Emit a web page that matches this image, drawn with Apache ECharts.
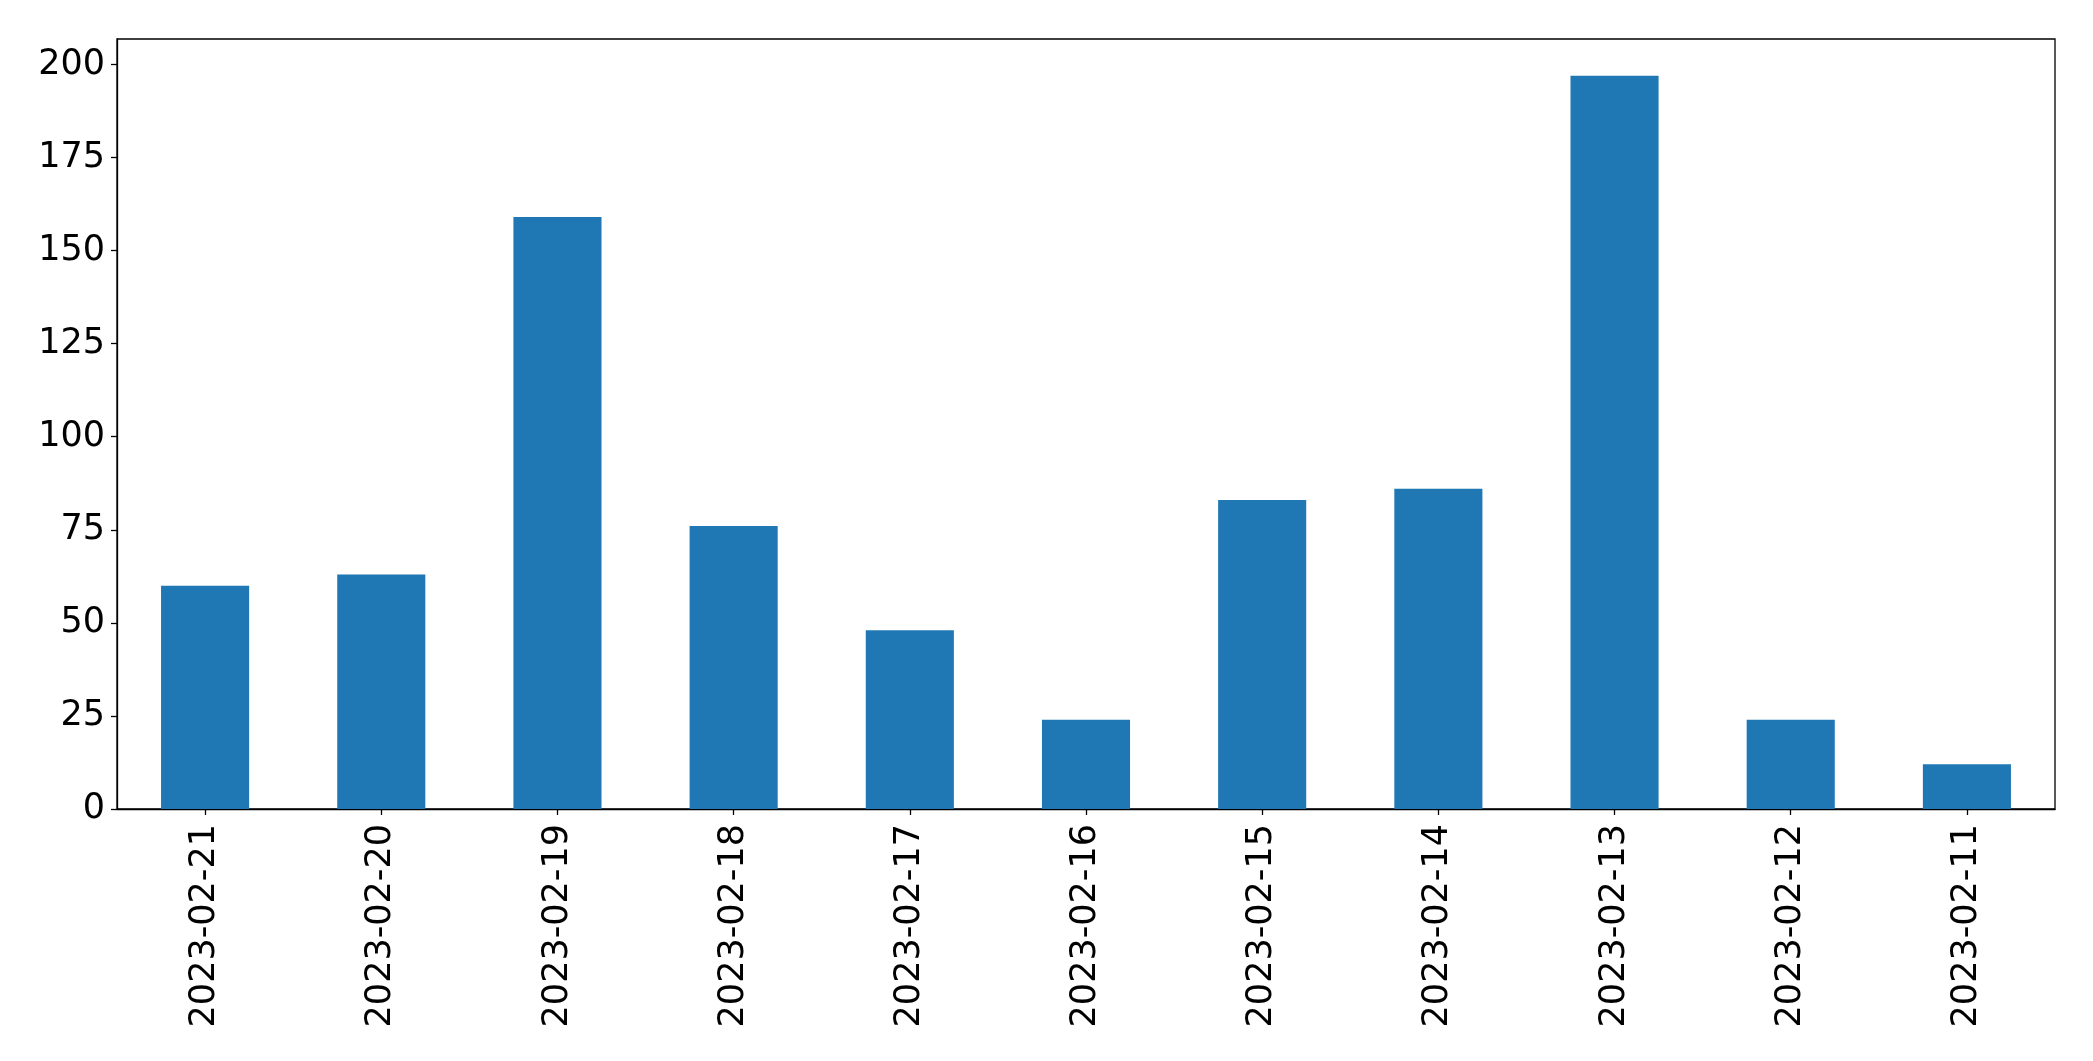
<!DOCTYPE html>
<html>
<head>
<meta charset="utf-8">
<script src="https://cdn.jsdelivr.net/npm/echarts@6/dist/echarts.min.js"></script>
<style>
html,body{margin:0;padding:0;background:#fff;}
#chart{width:2093px;height:1061px;}
</style>
</head>
<body>
<div id="chart"></div>
<script>
const categories = ["2023-02-21","2023-02-20","2023-02-19","2023-02-18","2023-02-17","2023-02-16","2023-02-15","2023-02-14","2023-02-13","2023-02-12","2023-02-11"];
const values = [60, 63, 159, 76, 48, 24, 83, 86, 197, 24, 12];
const yTicks = [0, 25, 50, 75, 100, 125, 150, 175, 200];

const chart = echarts.init(document.getElementById('chart'), null, {renderer: 'canvas'});
const font = 'DejaVu Sans';
chart.setOption({
  animation: false,
  backgroundColor: '#ffffff',
  grid: {
    left: 117, top: 39, right: 38, bottom: 252,
    show: true, borderColor: '#000000', borderWidth: 1.3, backgroundColor: 'transparent',
    containLabel: false
  },
  xAxis: {
    type: 'category',
    data: categories,
    boundaryGap: true,
    axisLine: {show: true, lineStyle: {color: '#000000', width: 1.3}},
    axisTick: {show: true, alignWithLabel: true, length: 6, lineStyle: {color: '#000000', width: 1.3}},
    axisLabel: {rotate: 90, margin: 15, color: '#000000', fontFamily: font, fontSize: 35, interval: 0},
    splitLine: {show: false}
  },
  yAxis: {
    type: 'value',
    min: 0,
    max: 206.85,
    axisLine: {show: true, lineStyle: {color: '#000000', width: 1.3}},
    axisTick: {show: true, length: 6, customValues: yTicks, lineStyle: {color: '#000000', width: 1.3}},
    axisLabel: {margin: 12, color: '#000000', fontFamily: font, fontSize: 35, customValues: yTicks},
    splitLine: {show: false}
  },
  series: [{
    type: 'bar',
    data: values,
    barWidth: '50%',
    itemStyle: {color: '#1f77b4'}
  }]
});
</script>
</body>
</html>
